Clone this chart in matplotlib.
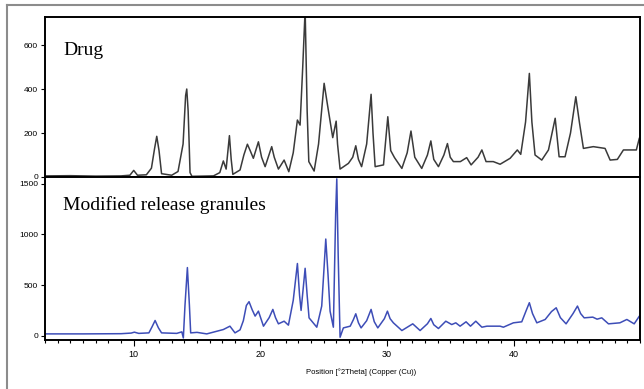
import logging

import matplotlib
matplotlib.use("Agg")
import matplotlib.pyplot as plt
from matplotlib.lines import Line2D
from matplotlib.ticker import MultipleLocator

logging.basicConfig(level=logging.INFO, format="%(asctime)s - %(message)s")
logger = logging.getLogger(__name__)

# --- DATA ---
drug_x = [3.0, 5.0, 7.0, 9.0, 9.7, 10.0, 10.3, 11.0, 11.4, 11.65, 11.82, 12.0, 12.2,
          13.0, 13.5, 13.9, 14.1, 14.19, 14.3, 14.45, 14.6, 16.3, 16.8, 17.08, 17.3,
          17.56, 17.7, 17.83, 18.4, 18.7, 18.98, 19.2, 19.45, 19.85, 20.1, 20.38, 20.9,
          21.1, 21.43, 21.88, 22.25, 22.6, 22.93, 23.14, 23.35, 23.54, 23.7, 23.83, 24.25,
          24.6, 25.04, 25.3, 25.72, 25.99, 26.1, 26.3, 26.96, 27.3, 27.54, 27.75, 28.0,
          28.4, 28.75, 28.9, 29.07, 29.73, 30.07, 30.3, 30.6, 31.18, 31.6, 31.9, 32.2,
          32.75, 33.2, 33.47, 33.7, 34.07, 34.5, 34.78, 35.0, 35.25, 35.8, 36.3, 36.65,
          37.2, 37.5, 37.83, 38.4, 38.94, 39.73, 40.3, 40.57, 40.95, 41.25, 41.45, 41.7,
          42.23, 42.76, 43.29, 43.6, 44.07, 44.5, 44.92, 45.2, 45.52, 46.3, 47.23, 47.63,
          48.2, 48.68, 49.7, 49.94, 50.0]
drug_y = [5, 6, 4, 5, 8, 30, 8, 10, 40, 130, 185, 120, 15,
          8, 25, 150, 370, 400, 300, 20, 3, 5, 20, 73, 36,
          188, 80, 12, 32, 100, 149, 120, 85, 160, 90, 47, 138,
          90, 36, 77, 24, 110, 259, 236, 500, 760, 300, 70, 27,
          150, 426, 330, 179, 254, 150, 36, 62, 90, 142, 80, 47,
          150, 376, 200, 47, 55, 274, 120, 88, 39, 110, 209, 90,
          39, 100, 164, 80, 47, 100, 152, 90, 70, 70, 88, 55,
          90, 123, 70, 70, 58, 85, 123, 103, 250, 471, 250, 100,
          77, 123, 267, 92, 92, 200, 365, 250, 130, 138, 130, 77,
          80, 123, 123, 177, 180]

gran_x = [3.0, 6.0, 9.0, 9.8, 10.05, 10.4, 11.2, 11.45, 11.69, 11.95, 12.2, 13.4, 13.8,
          13.92, 14.05, 14.24, 14.4, 14.5, 15.0, 15.77, 17.08, 17.6, 18.0, 18.4, 18.66,
          18.9, 19.11, 19.35, 19.59, 19.85, 20.25, 20.7, 20.99, 21.2, 21.43, 21.88, 22.22,
          22.6, 22.93, 23.1, 23.22, 23.54, 23.7, 23.85, 24.46, 24.85, 25.0, 25.17, 25.35,
          25.51, 25.77, 25.95, 26.04, 26.15, 26.3, 26.56, 27.1, 27.35, 27.54, 27.75, 27.96,
          28.4, 28.75, 29.0, 29.28, 29.8, 30.04, 30.25, 30.51, 31.18, 32.04, 32.62, 33.2,
          33.47, 33.7, 34.07, 34.65, 35.12, 35.44, 35.78, 36.25, 36.6, 37.02, 37.5, 37.9,
          38.94, 39.2, 39.99, 40.65, 41.0, 41.25, 41.5, 41.84, 42.5, 43.0, 43.37, 43.7,
          44.15, 44.7, 45.05, 45.3, 45.58, 46.26, 46.6, 46.97, 47.5, 48.4, 48.95, 49.53,
          49.94, 50.0]
gran_y = [20, 20, 22, 28, 37, 25, 30, 90, 152, 80, 30, 25, 40,
          -20, 300, 673, 300, 30, 35, 20, 63, 96, 30, 60, 150,
          300, 337, 260, 195, 244, 96, 180, 261, 180, 119, 145, 106,
          350, 713, 400, 251, 666, 400, 178, 86, 294, 600, 954, 600,
          244, 86, 1200, 1547, 800, -13, 79, 96, 160, 218, 130, 79,
          150, 261, 140, 79, 170, 244, 170, 129, 53, 119, 53, 120,
          172, 110, 73, 145, 112, 129, 96, 139, 96, 145, 86, 96,
          96, 86, 129, 139, 250, 327, 220, 129, 162, 240, 277, 180,
          119, 220, 294, 220, 178, 185, 165, 178, 119, 129, 162, 119,
          195, 200]

drug_yticks = [0, 200, 400, 600]
gran_yticks = [0, 500, 1000, 1500]
x_major_ticks = [10, 20, 30, 40]

# --- STYLE ---
DRUG_COLOR = "#3a3a3a"
GRAN_COLOR = "#3d4db7"
TICK_FONT = "Liberation Sans"
TITLE_FONT = "Liberation Serif"
OUT_FILE = "out.png"


def style_axis(ax, yticks):
    for spine in ax.spines.values():
        spine.set_linewidth(1.4)
        spine.set_color("black")
    ax.set_yticks(yticks)
    ax.tick_params(axis="y", direction="out", length=3, width=0.8, labelsize=6, pad=2)
    for label in ax.get_yticklabels():
        label.set_fontfamily(TICK_FONT)


def main():
    fig = plt.figure(figsize=(6.44, 3.89), dpi=100)

    # Panel positions in figure fractions
    left, width = 0.070, 0.924
    ax_top = fig.add_axes([left, 0.545, width, 0.411])
    ax_bot = fig.add_axes([left, 0.126, width, 0.419], sharex=ax_top)

    # Outer grey frame (only top and left visible in the original crop)
    fig.add_artist(Line2D([0.011, 1.0], [0.987, 0.987], transform=fig.transFigure,
                          color="#8c8c8c", lw=1.5))
    fig.add_artist(Line2D([0.011, 0.011], [0.0, 0.987], transform=fig.transFigure,
                          color="#8c8c8c", lw=1.5))

    # 1. Drug pattern
    ax_top.plot(drug_x, drug_y, color=DRUG_COLOR, lw=1.1)
    ax_top.set_ylim(0, 727)
    style_axis(ax_top, drug_yticks)
    ax_top.tick_params(axis="x", which="both", bottom=False, labelbottom=False)
    ax_top.text(0.030, 0.76, "Drug", transform=ax_top.transAxes,
                fontfamily=TITLE_FONT, fontsize=14, va="baseline")

    # 2. Modified release granules pattern
    ax_bot.plot(gran_x, gran_y, color=GRAN_COLOR, lw=1.1)
    ax_bot.set_ylim(-40, 1565)
    style_axis(ax_bot, gran_yticks)
    ax_bot.text(0.030, 0.80, "Modified release granules", transform=ax_bot.transAxes,
                fontfamily=TITLE_FONT, fontsize=14, va="baseline")

    ax_bot.set_xlim(3, 50)
    ax_bot.set_xticks(x_major_ticks)
    ax_bot.xaxis.set_minor_locator(MultipleLocator(1))
    ax_bot.tick_params(axis="x", which="major", direction="out", length=4, width=0.8,
                       labelsize=6.5, pad=3)
    ax_bot.tick_params(axis="x", which="minor", direction="out", length=2.5, width=0.8)
    for label in ax_bot.get_xticklabels():
        label.set_fontfamily(TICK_FONT)

    fig.text(0.560, 0.044, "Position [°2Theta] (Copper (Cu))", ha="center", va="center",
             fontfamily=TICK_FONT, fontsize=5.5)

    fig.savefig(OUT_FILE, dpi=100, facecolor="white")
    plt.close(fig)
    logger.info(f"Saved {OUT_FILE}")


if __name__ == "__main__":
    main()
